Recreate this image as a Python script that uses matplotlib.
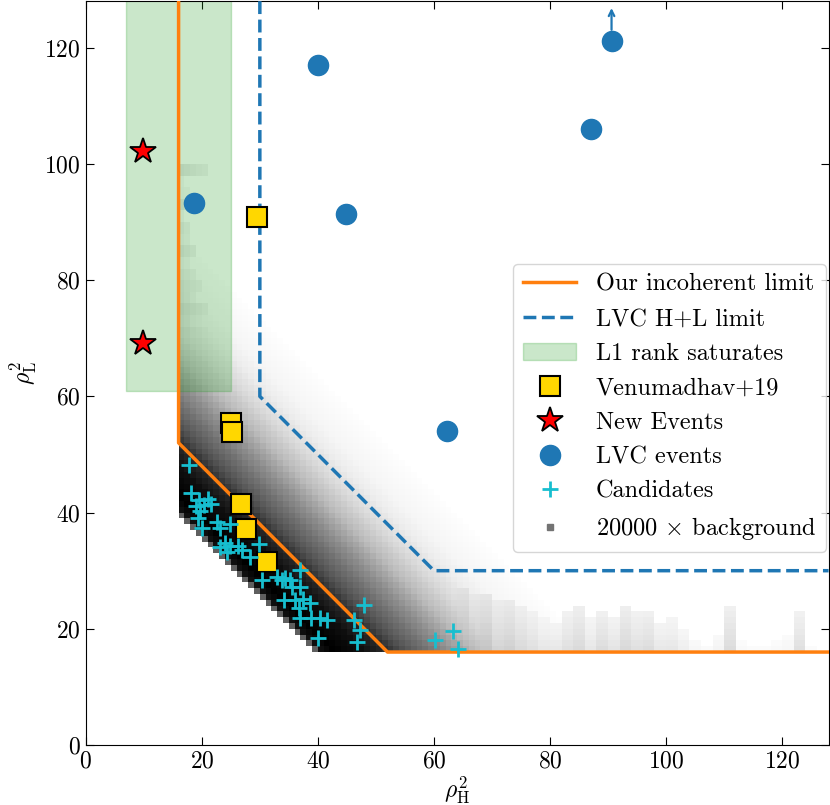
import numpy as np
import matplotlib
matplotlib.use("Agg")
import matplotlib.pyplot as plt

plt.rcParams['font.family'] = 'serif'
plt.rcParams['font.serif'] = ['cmr10', 'DejaVu Serif']
plt.rcParams['mathtext.fontset'] = 'cm'
plt.rcParams['axes.formatter.use_mathtext'] = True

# limits (rho_H^2, rho_L^2)
our_limit_x = [16, 16, 52, 128]
our_limit_y = [128, 52, 16, 16]
lvc_limit_x = [30, 30, 60, 128]
lvc_limit_y = [128, 60, 30, 30]
l1_sat_x = [7, 25]
l1_sat_ymin = 61

# events
venu_h = [29.5, 25.0, 25.2, 26.7, 27.7, 31.3]
venu_l = [90.9, 55.4, 53.9, 41.5, 37.1, 31.5]
new_h = [9.9, 9.9]
new_l = [102.2, 69.2]
lvc_h = [18.7, 40.0, 44.9, 62.3, 87.0, 90.6]
lvc_l = [93.3, 117.0, 91.4, 54.0, 106.0, 121.1]

cand_h = [17.8, 18.1, 19.6, 21.0, 19.0, 20.3, 21.5, 19.7, 19.4, 20.0, 22.6, 23.1,
          24.9, 24.0, 23.2, 24.9, 26.3, 26.9, 28.3, 29.8, 24.3, 30.3, 32.9, 33.8,
          34.3, 35.2, 35.5, 36.9, 36.9, 37.5, 38.6, 34.1, 36.1, 36.7, 36.9, 38.9,
          40.4, 41.5, 40.1, 47.9, 46.2, 47.3, 46.7, 60.1, 63.3, 64.2]
cand_l = [48.2, 43.3, 42.2, 42.3, 41.1, 41.3, 41.5, 40.2, 39.0, 37.3, 38.4, 37.3,
          38.0, 34.7, 34.1, 34.2, 34.3, 33.6, 32.4, 34.6, 33.3, 28.4, 29.0, 28.4,
          28.7, 28.4, 27.2, 27.2, 30.1, 25.2, 24.4, 24.9, 25.0, 23.5, 21.8, 21.8,
          21.8, 21.5, 18.4, 24.1, 21.5, 19.8, 17.8, 18.1, 19.7, 16.5]

# background histogram, darkness 0..1
# main band: darkness vs rho_H^2 + rho_L^2
bg_sum = [56, 57, 59, 64, 68, 72, 76, 80, 84, 88, 92, 96, 100, 104, 108]
bg_sum_shade = [0.7, 0.95, 1.0, 0.95, 0.85, 0.72, 0.6, 0.48, 0.36, 0.25, 0.15, 0.08, 0.04, 0.015, 0.0]
# tail along rho_L^2 ~ 16: one entry per rho_H^2 column (2 units wide)
bg_h_x = [64, 66, 68, 70, 72, 74, 76, 78, 80, 82, 84, 86, 88, 90, 92, 94, 96, 98,
          100, 102, 104, 106, 108, 110, 112, 114, 116, 118, 120, 122, 124, 126]
bg_h_top = [27, 26, 26, 25, 25, 24, 23, 22, 21, 23, 24, 22, 23, 22, 24, 23, 23, 21,
            22, 20, 18, 17, 19, 24, 18, 17, 17, 18, 19, 23, 17, 16]
bg_h_shade = [0.4, 0.33, 0.35, 0.28, 0.3, 0.25, 0.22, 0.18, 0.18, 0.22, 0.25, 0.18,
              0.24, 0.2, 0.26, 0.22, 0.24, 0.18, 0.18, 0.14, 0.08, 0.06, 0.1, 0.24,
              0.06, 0.05, 0.05, 0.06, 0.08, 0.22, 0.05, 0.0]
# tail along rho_H^2 ~ 16: one entry per rho_L^2 row (2 units high)
bg_l_y = [64, 66, 68, 70, 72, 74, 76, 78, 80, 82, 84, 86, 88, 90, 92, 94, 96, 98]
bg_l_right = [23, 22, 22, 21, 20, 21, 19, 20, 19, 18, 19, 18, 18, 17, 19, 18, 17, 21]
bg_l_shade = [0.38, 0.34, 0.32, 0.3, 0.26, 0.28, 0.24, 0.22, 0.2, 0.16, 0.22, 0.14,
              0.18, 0.1, 0.2, 0.1, 0.08, 0.2]

xe = np.arange(16, 129)
ye = np.arange(16, 101)
xc, yc = np.meshgrid(xe[:-1] + 0.5, ye[:-1] + 0.5)
s = xc + yc
shade = np.where(s >= 56, np.interp(s, bg_sum, bg_sum_shade), 0.0)
for x0, top, sh in zip(bg_h_x, bg_h_top, bg_h_shade):
    m = (xc >= x0) & (xc < x0 + 2) & (yc < top)
    fade = 1 - 0.5 * (yc[m] - 16) / max(top - 16, 1)
    shade[m] = np.maximum(shade[m], sh * fade)
for y0, right, sh in zip(bg_l_y, bg_l_right, bg_l_shade):
    m = (yc >= y0) & (yc < y0 + 2) & (xc < right)
    fade = 1 - 0.5 * (xc[m] - 16) / max(right - 16, 1)
    shade[m] = np.maximum(shade[m], sh * fade)
shade = np.ma.masked_where(shade <= 0.015, shade)

fig = plt.figure(figsize=(8.3, 8.05), dpi=100)
ax = fig.add_axes([0.1033, 0.0745, 0.895, 0.924])

ax.pcolormesh(xe, ye, shade, cmap='Greys', vmin=0, vmax=1, zorder=1, rasterized=True)
ax.fill_between(l1_sat_x, l1_sat_ymin, 140, color='tab:green', alpha=0.25, zorder=2,
                label='L1 rank saturates')
ax.plot(our_limit_x, our_limit_y, color='tab:orange', lw=2.5, zorder=3, label='Our incoherent limit')
ax.plot(lvc_limit_x, lvc_limit_y, color='tab:blue', ls='--', lw=2.5, zorder=3, label='LVC H+L limit')

ax.plot(venu_h, venu_l, 's', color='gold', ms=14, mec='k', mew=1.5, zorder=5, label='Venumadhav+19')
ax.plot(new_h, new_l, '*', color='red', ms=19, mec='k', mew=1.3, zorder=5, label='New Events')
ax.plot(lvc_h, lvc_l, 'o', color='tab:blue', ms=14.5, zorder=5, label='LVC events')
ax.plot(cand_h, cand_l, '+', color='tab:cyan', ms=11, mew=2, zorder=6, label='Candidates')
ax.plot([], [], 's', color='0.45', ms=5, label=r'20000 $\times$ background')

ax.annotate('', xy=(lvc_h[-1], 127.3), xytext=(lvc_h[-1], 122.6),
            arrowprops=dict(arrowstyle='->', color='tab:blue', lw=1.6), zorder=5)

ax.set_xlim(0, 128)
ax.set_ylim(0, 128)
ax.set_xticks(np.arange(0, 121, 20))
ax.set_yticks(np.arange(0, 121, 20))
ax.tick_params(direction='in', top=True, right=True, labelsize=17, length=6)
ax.set_xlabel(r'$\rho^2_\mathrm{H}$', fontsize=17, labelpad=2)
ax.set_ylabel(r'$\rho^2_\mathrm{L}$', fontsize=17, labelpad=4)

h, l = ax.get_legend_handles_labels()
order = ['Our incoherent limit', 'LVC H+L limit', 'L1 rank saturates', 'Venumadhav+19',
         'New Events', 'LVC events', 'Candidates', r'20000 $\times$ background']
idx = [l.index(o) for o in order]
ax.legend([h[i] for i in idx], [l[i] for i in idx], loc='lower right',
          bbox_to_anchor=(0.9966, 0.2595), borderaxespad=0, fontsize=17.5,
          numpoints=1, framealpha=0.8, handlelength=2.2, labelspacing=0.51)

fig.savefig('out.png', dpi=100)
